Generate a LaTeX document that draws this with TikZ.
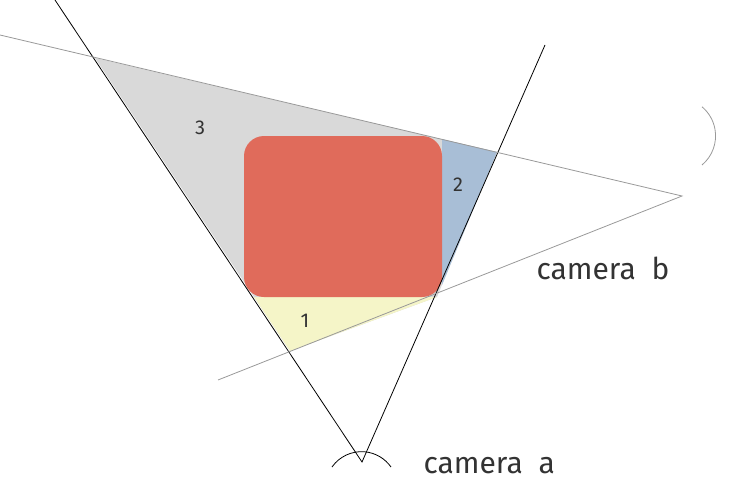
\documentclass[tikz,border=0pt]{standalone}
\usepackage{fontspec}
\setmainfont{Fira Sans}
\definecolor{regred}{HTML}{E06B5B}
\definecolor{reggray}{HTML}{D9D9D9}
\definecolor{regblue}{HTML}{A8BED6}
\definecolor{regyellow}{HTML}{F5F5C8}
\definecolor{txtgray}{HTML}{333333}
\tikzset{
  ray/.style={draw,thick},
  grayray/.style={draw,gray!80,thick},
  camlabel/.style={font=\fontsize{30}{30}\selectfont,text=txtgray,anchor=west},
  reglabel/.style={font=\fontsize{20}{20}\selectfont,text=txtgray}
}
\begin{document}
\begin{tikzpicture}[x=1pt,y=-1pt]
\useasboundingbox (0,0) rectangle (747,495);
\coordinate (camA) at (362,462);
\coordinate (camB) at (682,196);
\coordinate (a1) at (55,0);
\coordinate (a2) at (545,45);
\coordinate (b1) at (0,35);
\coordinate (b2) at (218,380);
\coordinate (q1) at (95,58);
\coordinate (q2) at (497,152);
\coordinate (q3) at (437,297);
\coordinate (q4) at (290,351);

% overlap regions
\fill[reggray] (q1) -- (q2) -- (q3) -- (q4) -- cycle;
\begin{scope}
\clip (q1) -- (q2) -- (q3) -- (q4) -- cycle;
\fill[regyellow] (0,297) rectangle (747,495);
\fill[regblue] (442,0) rectangle (747,297);
\end{scope}
\fill[regred,rounded corners=20] (244,136) rectangle (442,297);

\path[ray] (a1) -- (camA) -- (a2);
\path[grayray] (b1) -- (camB) -- (b2);
\draw[thick] (332,467) arc[start angle=215,end angle=325,radius=36];
\draw[gray!80,thick] (702,165) arc[start angle=50,end angle=-50,radius=38];

\node[reglabel] (r1) at (305,321) {1};
\node[reglabel] (r2) at (458,185) {2};
\node[reglabel] (r3) at (200,128) {3};
\node[camlabel] (la) at (420,466) {camera\ \ a};
\node[camlabel] (lb) at (533,268) {camera\ \ b};
\end{tikzpicture}
\end{document}
